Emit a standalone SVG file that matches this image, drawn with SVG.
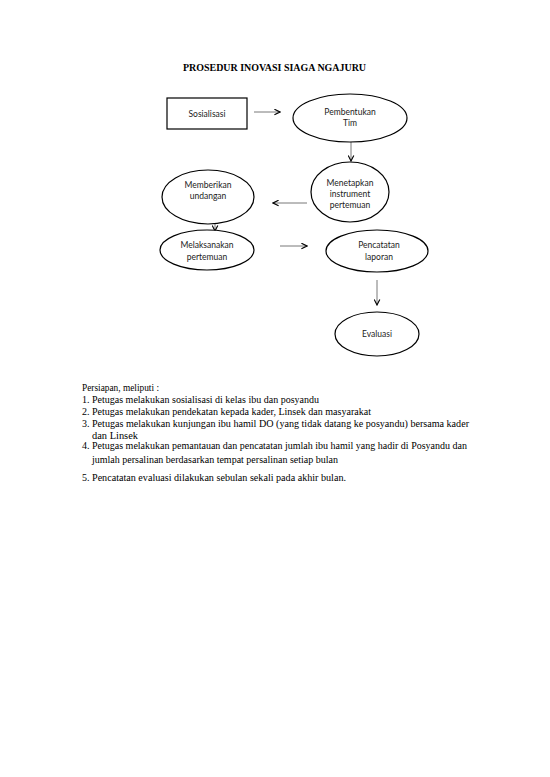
<svg xmlns="http://www.w3.org/2000/svg" width="550" height="777" viewBox="0 0 550 777">
<style>
.shape{fill:#fff;stroke:#000;stroke-width:1.2}
.nt{font-family:Lato,"Open Sans",sans-serif;font-size:8.5px;fill:#222;text-anchor:middle}
.bt{font-family:"Liberation Serif",serif;font-size:10px;fill:#000}
.title{font-family:"Liberation Serif",serif;font-size:10px;font-weight:bold}
.conn{stroke:#555;stroke-width:0.8;fill:none;marker-end:url(#ah)}
</style>
<defs>
<marker id="ah" viewBox="0 0 10 10" refX="9" refY="5" markerWidth="7" markerHeight="7" markerUnits="userSpaceOnUse" orient="auto">
<path d="M1,1 L9,5 L1,9" fill="none" stroke="#000" stroke-width="1.6"/>
</marker>
</defs>
<rect width="550" height="777" fill="#fff"/>
<text class="title" x="183" y="71" textLength="183" lengthAdjust="spacingAndGlyphs">PROSEDUR INOVASI SIAGA NGAJURU</text>
<g id="connectors">
<line class="conn" x1="254" y1="112" x2="280" y2="112"/>
<line class="conn" x1="351" y1="142" x2="351" y2="161"/>
<line class="conn" x1="307" y1="203" x2="273" y2="203"/>
<line class="conn" x1="215" y1="224" x2="215" y2="231"/>
<line class="conn" x1="280" y1="246" x2="307" y2="246"/>
<line class="conn" x1="377" y1="280" x2="377" y2="305"/>
</g>
<g id="sosialisasi">
<rect class="shape" x="167" y="98" width="80" height="31"/>
<text class="nt" x="207" y="117">Sosialisasi</text>
</g>
<g id="pembentukan">
<ellipse class="shape" cx="350" cy="118" rx="57" ry="24"/>
<text class="nt" x="350" y="115">Pembentukan</text>
<text class="nt" x="350" y="126">Tim</text>
</g>
<g id="memberikan">
<ellipse class="shape" cx="208" cy="197" rx="46" ry="27"/>
<text class="nt" x="208" y="188">Memberikan</text>
<text class="nt" x="208" y="199">undangan</text>
</g>
<g id="menetapkan">
<ellipse class="shape" cx="350" cy="192" rx="39" ry="30"/>
<text class="nt" x="350" y="186">Menetapkan</text>
<text class="nt" x="350" y="197">instrument</text>
<text class="nt" x="350" y="208">pertemuan</text>
</g>
<g id="melaksanakan">
<ellipse class="shape" cx="207" cy="250" rx="47" ry="20"/>
<text class="nt" x="207" y="248">Melaksanakan</text>
<text class="nt" x="207" y="260">pertemuan</text>
</g>
<g id="pencatatan">
<ellipse class="shape" cx="377" cy="251" rx="51" ry="21"/>
<text class="nt" x="379" y="248">Pencatatan</text>
<text class="nt" x="379" y="260">laporan</text>
</g>
<g id="evaluasi">
<ellipse class="shape" cx="377" cy="334" rx="42" ry="22"/>
<text class="nt" x="377" y="337">Evaluasi</text>
</g>
<g id="body">
<text class="bt" x="82" y="391" textLength="77" lengthAdjust="spacingAndGlyphs">Persiapan, meliputi :</text>
<text class="bt" x="82" y="403">1.</text><text class="bt" x="92" y="403" textLength="227" lengthAdjust="spacingAndGlyphs">Petugas melakukan sosialisasi di kelas ibu dan posyandu</text>
<text class="bt" x="82" y="415">2.</text><text class="bt" x="92" y="415" textLength="279" lengthAdjust="spacingAndGlyphs">Petugas melakukan pendekatan kepada kader, Linsek dan masyarakat</text>
<text class="bt" x="82" y="427">3.</text><text class="bt" x="92" y="427" textLength="377" lengthAdjust="spacingAndGlyphs">Petugas melakukan kunjungan ibu hamil DO (yang tidak datang ke posyandu) bersama kader</text>
<text class="bt" x="92" y="439" textLength="46" lengthAdjust="spacingAndGlyphs">dan Linsek</text>
<text class="bt" x="82" y="449">4.</text><text class="bt" x="92" y="449" textLength="375" lengthAdjust="spacingAndGlyphs">Petugas melakukan pemantauan dan pencatatan jumlah ibu hamil yang hadir di Posyandu dan</text>
<text class="bt" x="92" y="463" textLength="246" lengthAdjust="spacingAndGlyphs">jumlah persalinan berdasarkan tempat persalinan setiap bulan</text>
<text class="bt" x="82" y="481">5.</text><text class="bt" x="92" y="481" textLength="254" lengthAdjust="spacingAndGlyphs">Pencatatan evaluasi  dilakukan sebulan sekali pada akhir bulan.</text>
</g>
</svg>
